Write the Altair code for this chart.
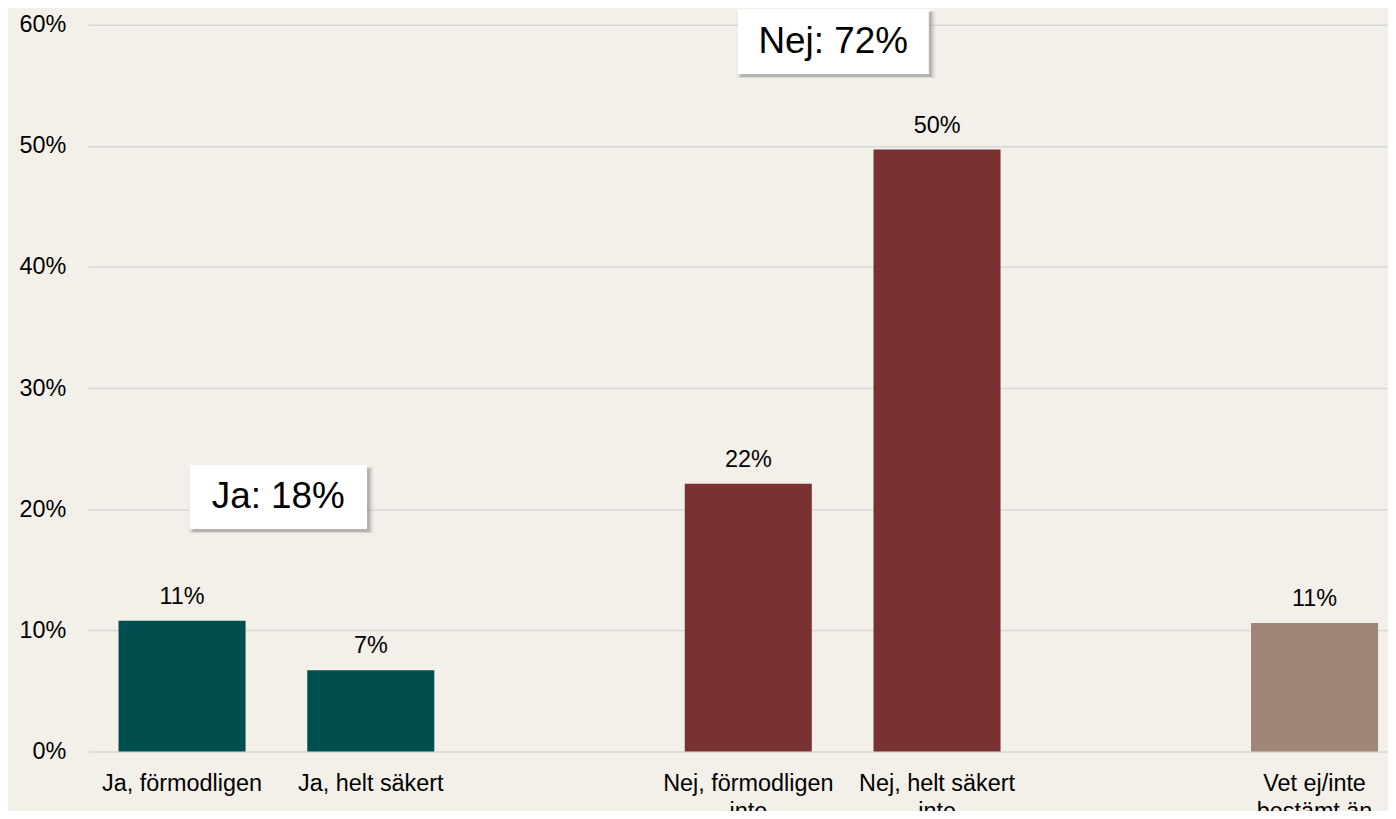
import altair as alt
import pandas as pd

# ---- data ----
categories = ["Ja, förmodligen", "Ja, helt säkert", "Nej, förmodligen inte",
              "Nej, helt säkert inte", "Vet ej/inte bestämt än"]
values = [10.8, 6.7, 22.1, 49.7, 10.6]
groups = ["Ja", "Ja", "Nej", "Nej", "Vet ej"]

# axis slots (two empty slots separate the groups)
axis_order = ["Ja, förmodligen", "Ja, helt säkert", " ",
              "Nej, förmodligen inte", "Nej, helt säkert inte", "  ",
              "Vet ej/inte bestämt än"]
tick_lines = [["Ja, förmodligen"], ["Ja, helt säkert"], [" "],
              ["Nej, förmodligen", "inte"], ["Nej, helt säkert", "inte"], ["  "],
              ["Vet ej/inte", "bestämt än"]]
y_ticks = [0, 10, 20, 30, 40, 50, 60]

group_names = ["Ja", "Nej", "Vet ej"]
group_colors = ["#004F4F", "#783030", "#A08676"]

annot_text = ["Ja: 18%", "Nej: 72%"]
annot_slot = [0.51, 3.45]      # position in category-slot units
annot_value = [21.0, 58.6]     # position on the percent axis

# ---- styles ----
FONT = "Liberation Sans"
BG = "#F3EFE9"
BOX_W = [178, 192]
BOX_H = [64, 65]
RANGE_X = [0, 1327]

df = pd.DataFrame({"category": categories, "value": values, "group": groups})
df_annot = pd.DataFrame({"text": annot_text, "slot": annot_slot, "v": annot_value})

label_expr = ""
for cat, lines in zip(axis_order, tick_lines):
    arr = "[" + ", ".join("'" + l + "'" for l in lines) + "]"
    label_expr += f"datum.label == '{cat}' ? {arr} : "
label_expr += "datum.label"

x_scale = alt.Scale(domain=axis_order, range=RANGE_X, paddingInner=0.327,
                    paddingOuter=0.1635, round=False)
y_scale = alt.Scale(domain=[0, 60], nice=False)

x_enc = alt.X("category:N", scale=x_scale, sort=axis_order,
              axis=alt.Axis(title=None, grid=False, labelAngle=0, labelPadding=20,
                            labelLineHeight=28, labelLimit=0, labelOverlap=False,
                            labelExpr=label_expr))
y_enc = alt.Y("value:Q", scale=y_scale,
              axis=alt.Axis(title=None, values=y_ticks, grid=True, labelPadding=22,
                            labelExpr="datum.value + '%'"))

base = alt.Chart(df)

bars = base.mark_bar().encode(
    x=x_enc,
    y=y_enc,
    color=alt.Color("group:N", scale=alt.Scale(domain=group_names, range=group_colors),
                    legend=None),
)

bar_labels = base.transform_calculate(
    lbl="format(datum.value, '.0f') + '%'"
).mark_text(dy=-17, baseline="alphabetic", fontSize=23.5, font=FONT, color="#000").encode(
    x=x_enc,
    y=y_enc,
    text="lbl:N",
)

ax_x = alt.X("slot:Q", scale=alt.Scale(domain=[-0.5, 6.5], range=RANGE_X, nice=False, zero=False), axis=None)
ax_y = alt.Y("v:Q", scale=y_scale)

annot_layers = []
for i, t in enumerate(annot_text):
    w, h = BOX_W[i], BOX_H[i]
    r = h / w
    path = f"M-1,-{r:.4f}L1,-{r:.4f}L1,{r:.4f}L-1,{r:.4f}Z"
    src = alt.Chart(df_annot).transform_filter(alt.datum.text == t)
    for extra, off, op in [(8, 3, 0.06), (4, 3, 0.12), (0, 3, 0.25)]:
        annot_layers.append(
            src.mark_point(shape=path, filled=True, fill="#555555", opacity=op,
                           strokeWidth=0, size=(w + extra) ** 2,
                           xOffset=off, yOffset=off).encode(x=ax_x, y=ax_y)
        )
    annot_layers.append(
        src.mark_point(shape=path, filled=True, fill="#FFFFFF", opacity=1,
                       strokeWidth=0, size=w ** 2).encode(x=ax_x, y=ax_y)
    )
    annot_layers.append(
        src.mark_text(fontSize=37, font=FONT, color="#000", baseline="middle",
                      align="center").encode(x=ax_x, y=ax_y, text="text:N")
    )

chart = alt.layer(
    alt.layer(bars, bar_labels),
    alt.layer(*annot_layers),
).resolve_scale(x="independent").properties(
    width=1306, height=730,
    autosize=alt.AutoSizeParams(type="none"),
    padding={"left": 80, "top": 15, "right": 0, "bottom": 58},
    background=BG,
).configure_axis(
    labelFont=FONT, labelFontSize=23.5, labelColor="#000",
    domain=False, ticks=False, gridColor="#D9D9D9", gridWidth=1.5,
).configure_view(strokeWidth=0)

chart.save("out.html", embed_options={"renderer": "svg", "actions": False})
